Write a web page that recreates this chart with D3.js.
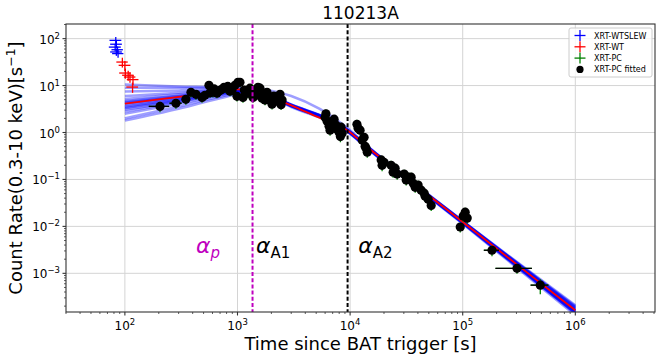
<!DOCTYPE html>
<html>
<head>
<meta charset="utf-8">
<script src="https://cdn.jsdelivr.net/npm/d3@7"></script>
<style>
  body { margin: 0; background: #fff; }
  text { font-family: "DejaVu Sans", sans-serif; }
</style>
</head>
<body>
<script>
// ---- data ----
const wtslewT = [83, 84, 82, 86, 84, 87];
const wtslewRate = [92, 76, 66, 58, 52, 48];
const wtslewTErr = [10, 10, 10, 10, 10, 10];
const wtslewRateErr = [16, 14, 12, 10, 9, 9];

const wtT = [95, 100, 101, 107, 111, 118, 117];
const wtRate = [31.7, 27, 18.5, 16.6, 15.2, 13.4, 9.3];
const wtTErr = [11, 12, 12, 12.5, 13, 14, 14];
const wtRateErr = [7.5, 6.5, 4.5, 4.0, 3.7, 3.3, 2.3];

const pcT = [205, 284, 348, 386, 428, 484, 514, 558, 570, 606, 620, 657, 699, 720, 759, 790, 820, 858, 893, 950, 990, 1010,
  1052, 1119, 1150, 1240, 1291, 1346, 1374, 1459, 1521, 1585, 1652, 1700, 1755, 1828, 1945, 2027, 2100, 2198, 2300, 2387, 2437, 2489,
  5995, 6100, 6250, 6505, 6637, 6918, 7211, 7516, 7656, 7980, 8200, 8318, 8492,
  11500, 11780, 12270, 12790, 13310, 13590, 13870, 14200,
  18880, 19240, 20050, 23120, 24100, 25120, 26180, 30200, 31480, 32810, 34850, 36310, 37840, 40180,
  42760, 45500, 46420, 49320, 52480,
  95060, 101000, 105200, 109600,
  182000, 303400, 488600];
const pcRate = [3.6, 4.2, 5.1, 7.2, 6.5, 5.6, 6.2, 10.1, 7.0, 7.2, 8.5, 6.9, 7.9, 8.2, 9.2, 8.8, 9.6, 7.6, 7.9, 10.1, 5.9, 11.7,
  11.7, 5.6, 8.0, 6.9, 8.8, 7.9, 5.6, 6.2, 9.2, 8.8, 5.4, 6.5, 4.9, 7.2, 4.9, 4.0, 6.0, 5.4, 4.6, 6.5, 3.9, 4.9,
  2.12, 2.5, 1.74, 1.36, 1.12, 1.58, 1.92, 1.43, 1.18, 1.01, 0.82, 1.3, 0.97,
  1.5, 1.23, 1.12, 0.69, 0.79, 0.51, 0.46, 0.38,
  0.26, 0.20, 0.23, 0.20, 0.143, 0.174, 0.13, 0.13, 0.097, 0.112, 0.112, 0.083, 0.068, 0.076,
  0.059, 0.051, 0.044, 0.038, 0.028,
  0.0097, 0.0166, 0.0201, 0.015,
  0.0031, 0.00128, 0.00056];
const pcTErr = [42, 35, 25, 18, 18, 20, 20, 20, 20, 22, 22, 22, 25, 25, 25, 25, 26, 28, 28, 30, 30, 30,
  30, 35, 35, 35, 38, 40, 40, 42, 45, 45, 48, 48, 50, 52, 55, 58, 60, 62, 65, 68, 70, 72,
  180, 180, 190, 190, 200, 200, 210, 220, 220, 230, 240, 240, 250,
  330, 340, 350, 370, 380, 390, 400, 410,
  540, 550, 580, 660, 690, 720, 750, 860, 900, 940, 1000, 1040, 1080, 1150,
  1220, 1300, 1330, 1410, 1500,
  2700, 2900, 3000, 3100,
  28000, 108000, 88000];
const pcRateErr = [0.9, 1.0, 1.2, 1.6, 1.5, 1.3, 1.4, 2.2, 1.5, 1.6, 1.8, 1.5, 1.7, 1.8, 2.0, 1.9, 2.0, 1.7, 1.7, 2.2, 1.3, 2.5,
  2.5, 1.3, 1.7, 1.5, 1.9, 1.7, 1.3, 1.4, 2.0, 1.9, 1.2, 1.4, 1.1, 1.6, 1.1, 0.9, 1.3, 1.2, 1.0, 1.4, 0.9, 1.1,
  0.5, 0.6, 0.4, 0.32, 0.27, 0.37, 0.45, 0.34, 0.28, 0.24, 0.2, 0.31, 0.23,
  0.36, 0.29, 0.27, 0.16, 0.19, 0.12, 0.11, 0.09,
  0.06, 0.05, 0.055, 0.05, 0.034, 0.041, 0.031, 0.031, 0.023, 0.027, 0.027, 0.02, 0.016, 0.018,
  0.014, 0.012, 0.011, 0.009, 0.0067,
  0.0023, 0.004, 0.0048, 0.0036,
  0.0008, 0.0003, 0.0002];

// best fit (red) and posterior samples (blue)
const fitT = [100, 200, 400, 700, 1000, 1380, 2000, 3000, 5000, 9300, 15000, 30000, 100000, 300000, 1000000];
const fitRate = [4.14, 5.1, 6.28, 7.5, 8.3, 7.9, 5.6, 3.8, 2.2, 1.15, 0.44, 0.12, 0.0124, 0.00157, 0.000163];

const sampleT = [100, 300, 800, 1380, 3000, 9300, 15000, 100000, 1000000];
const sampleRates = [
  [1.8, 3.2, 5.8, 7.4, 3.5, 1.06, 0.41, 0.0113, 0.000128],
  [2.0, 3.6, 6.2, 7.6, 3.6, 1.09, 0.42, 0.0117, 0.000138],
  [2.5, 4.1, 6.6, 7.7, 3.65, 1.10, 0.425, 0.0119, 0.000143],
  [2.8, 4.4, 6.8, 7.8, 3.7, 1.12, 0.43, 0.0120, 0.000148],
  [3.1, 4.6, 7.0, 7.8, 3.9, 1.18, 0.45, 0.0128, 0.000175],
  [3.3, 4.8, 7.1, 7.8, 3.75, 1.14, 0.435, 0.0122, 0.000155],
  [3.5, 5.0, 7.2, 7.9, 3.8, 1.16, 0.44, 0.0125, 0.000160],
  [3.6, 5.1, 7.3, 7.9, 3.85, 1.17, 0.45, 0.0127, 0.000170],
  [3.9, 5.4, 7.45, 7.9, 3.8, 1.15, 0.44, 0.0124, 0.000162],
  [4.1, 5.6, 7.5, 7.9, 3.7, 1.11, 0.425, 0.0119, 0.000145],
  [4.3, 5.8, 7.6, 7.9, 3.8, 1.15, 0.44, 0.0125, 0.000165],
  [4.5, 5.9, 7.7, 8.0, 3.75, 1.13, 0.435, 0.0121, 0.000152],
  [4.7, 6.1, 7.8, 8.0, 3.9, 1.18, 0.455, 0.0129, 0.000180],
  [5.2, 6.5, 7.9, 8.0, 3.95, 1.19, 0.46, 0.0131, 0.000188],
  [6.0, 7.0, 8.1, 8.0, 3.65, 1.10, 0.42, 0.0118, 0.000142],
  [7.5, 7.9, 8.4, 8.1, 3.85, 1.16, 0.445, 0.0126, 0.000192],
  [10.5, 9.6, 9.0, 8.2, 3.8, 1.15, 0.44, 0.0125, 0.000200],
  [9.0, 9.0, 9.0, 8.6, 6.0, 1.30, 0.46, 0.0130, 0.000210]
];

const breakTimes = [1360, 9500];
const breakColors = ["#bf00bf", "#000"];

const legendLabels = ["XRT-WTSLEW", "XRT-WT", "XRT-PC", "XRT-PC fitted"];
const legendColors = ["#0000ff", "#ff0000", "#008000", "#000"];

// ---- layout ----
const dims = { width: 664, height: 358 };
const plot = { left: 66, right: 655, top: 24, bottom: 312 };

const svg = d3.select("body").append("svg")
  .attr("width", dims.width)
  .attr("height", dims.height);

const x = d3.scaleLog().domain([30, 5.1e6]).range([plot.left, plot.right]);
const y = d3.scaleLog().domain([1.5e-4, 205]).range([plot.bottom, plot.top]);

const isPow10 = (v) => Math.abs(Math.log10(v) - Math.round(Math.log10(v))) < 1e-9;
const xMajor = x.ticks().filter(isPow10);
const xMinor = x.ticks().filter((v) => !isPow10(v));
const yMajor = y.ticks().filter(isPow10);
const yMinor = y.ticks().filter((v) => !isPow10(v));

svg.append("defs").append("clipPath").attr("id", "clip")
  .append("rect")
  .attr("x", plot.left).attr("y", plot.top)
  .attr("width", plot.right - plot.left).attr("height", plot.bottom - plot.top);

// grid
const grid = svg.append("g").attr("stroke", "#d4d4d4").attr("stroke-width", 1);
grid.selectAll(".gx").data(xMajor).enter().append("line")
  .attr("x1", (d) => x(d)).attr("x2", (d) => x(d))
  .attr("y1", plot.top).attr("y2", plot.bottom);
grid.selectAll(".gy").data(yMajor).enter().append("line")
  .attr("x1", plot.left).attr("x2", plot.right)
  .attr("y1", (d) => y(d)).attr("y2", (d) => y(d));

const area = svg.append("g").attr("clip-path", "url(#clip)");

// error bar helper
function errorbars(g, t, r, te, re, color, withY) {
  const idx = d3.range(t.length);
  g.selectAll(null).data(idx).enter().append("line")
    .attr("x1", (i) => x(Math.max(t[i] - te[i], 1)))
    .attr("x2", (i) => x(t[i] + te[i]))
    .attr("y1", (i) => y(r[i])).attr("y2", (i) => y(r[i]))
    .attr("stroke", color).attr("stroke-width", 1.3);
  if (withY) {
    g.selectAll(null).data(idx).enter().append("line")
      .attr("x1", (i) => x(t[i])).attr("x2", (i) => x(t[i]))
      .attr("y1", (i) => y(Math.max(r[i] - re[i], 1e-6)))
      .attr("y2", (i) => y(r[i] + re[i]))
      .attr("stroke", color).attr("stroke-width", 1.3);
  }
}

// model samples and best fit
const line = d3.line().x((d) => x(d[0])).y((d) => y(d[1])).curve(d3.curveMonotoneX);

area.append("g").selectAll("path")
  .data(sampleRates).enter().append("path")
  .attr("d", (s) => line(sampleT.map((t, i) => [t, s[i]])))
  .attr("fill", "none")
  .attr("stroke", "#0000ff")
  .attr("stroke-opacity", 0.38)
  .attr("stroke-width", 2.5);

area.append("path")
  .attr("d", line(fitT.map((t, i) => [t, fitRate[i]])))
  .attr("fill", "none")
  .attr("stroke", "#ff0000")
  .attr("stroke-width", 1.8);

// data
errorbars(area.append("g"), wtslewT, wtslewRate, wtslewTErr, wtslewRateErr, "#0000ff", true);
errorbars(area.append("g"), wtT, wtRate, wtTErr, wtRateErr, "#ff0000", true);
errorbars(area.append("g"), pcT, pcRate, pcTErr, pcRateErr, "#008000", true);
errorbars(area.append("g"), pcT, pcRate, pcTErr, pcRateErr, "#000", false);

area.append("g").selectAll("circle")
  .data(d3.range(pcT.length)).enter().append("circle")
  .attr("cx", (i) => x(pcT[i]))
  .attr("cy", (i) => y(pcRate[i]))
  .attr("r", 4.6)
  .attr("fill", "#000");

// break times
svg.append("g").selectAll("line")
  .data(breakTimes).enter().append("line")
  .attr("x1", (d) => x(d)).attr("x2", (d) => x(d))
  .attr("y1", plot.top).attr("y2", plot.bottom)
  .attr("stroke", (d, i) => breakColors[i])
  .attr("stroke-width", 2)
  .attr("stroke-dasharray", "4,2.2");

// slope annotations
const notes = [
  { t: 428, sub: "p", italic: true, color: "#bf00bf" },
  { t: 1460, sub: "A1", italic: false, color: "#000" },
  { t: 11800, sub: "A2", italic: false, color: "#000" }
];
notes.forEach((n) => {
  const tx = svg.append("text")
    .attr("x", x(n.t)).attr("y", y(0.0027))
    .attr("fill", n.color)
    .style("font-size", "22px");
  tx.append("tspan").style("font-style", "italic").text("α");
  tx.append("tspan").attr("dy", 5).style("font-size", "15px")
    .style("font-style", n.italic ? "italic" : "normal").text(n.sub);
});

// frame
svg.append("rect")
  .attr("x", plot.left).attr("y", plot.top)
  .attr("width", plot.right - plot.left).attr("height", plot.bottom - plot.top)
  .attr("fill", "none").attr("stroke", "#333").attr("stroke-width", 1.1);

// ticks
const ticks = svg.append("g").attr("stroke", "#333");
ticks.selectAll(".xM").data(xMajor).enter().append("line")
  .attr("x1", (d) => x(d)).attr("x2", (d) => x(d))
  .attr("y1", plot.bottom).attr("y2", plot.bottom + 3.5).attr("stroke-width", 1.1);
ticks.selectAll(".xm").data(xMinor).enter().append("line")
  .attr("x1", (d) => x(d)).attr("x2", (d) => x(d))
  .attr("y1", plot.bottom).attr("y2", plot.bottom + 2).attr("stroke-width", 0.8);
ticks.selectAll(".yM").data(yMajor).enter().append("line")
  .attr("x1", plot.left - 3.5).attr("x2", plot.left)
  .attr("y1", (d) => y(d)).attr("y2", (d) => y(d)).attr("stroke-width", 1.1);
ticks.selectAll(".ym").data(yMinor).enter().append("line")
  .attr("x1", plot.left - 2).attr("x2", plot.left)
  .attr("y1", (d) => y(d)).attr("y2", (d) => y(d)).attr("stroke-width", 0.8);

const expText = (v) => {
  const e = Math.round(Math.log10(v));
  return e < 0 ? "\u2212" + Math.abs(e) : String(e);
};

svg.append("g").selectAll("text").data(xMajor).enter().append("text")
  .attr("x", (d) => x(d)).attr("y", plot.bottom + 18)
  .attr("text-anchor", "middle")
  .style("font-size", "12px")
  .each(function (d) {
    const t = d3.select(this);
    t.append("tspan").text("10");
    t.append("tspan").attr("dy", -5).style("font-size", "8.5px").text(expText(d));
  });

svg.append("g").selectAll("text").data(yMajor).enter().append("text")
  .attr("x", plot.left - 6).attr("y", (d) => y(d) + 5)
  .attr("text-anchor", "end")
  .style("font-size", "12px")
  .each(function (d) {
    const t = d3.select(this);
    t.append("tspan").text("10");
    t.append("tspan").attr("dy", -5).style("font-size", "8.5px").text(expText(d));
  });

// titles
svg.append("text")
  .attr("x", (plot.left + plot.right) / 2).attr("y", 19)
  .attr("text-anchor", "middle")
  .style("font-size", "17px")
  .text("110213A");

svg.append("text")
  .attr("x", (plot.left + plot.right) / 2).attr("y", 350)
  .attr("text-anchor", "middle")
  .style("font-size", "18px")
  .text("Time since BAT trigger [s]");

const yl = svg.append("text")
  .attr("transform", `translate(22, ${(plot.top + plot.bottom) / 2}) rotate(-90)`)
  .attr("text-anchor", "middle")
  .style("font-size", "18px");
yl.append("tspan").text("Count Rate(0.3-10 keV)[s");
yl.append("tspan").attr("dy", -7).style("font-size", "12.5px").text("\u22121");
yl.append("tspan").attr("dy", 7).text("]");

// legend
const legendGroup = svg.append("g").attr("transform", "translate(569, 28)");
legendGroup.append("rect")
  .attr("width", 83).attr("height", 49).attr("rx", 2)
  .attr("fill", "#fff").attr("fill-opacity", 0.8)
  .attr("stroke", "#cccccc").attr("stroke-width", 1);

legendLabels.forEach((label, i) => {
  const row = legendGroup.append("g").attr("transform", `translate(11, ${7.5 + i * 11.3})`);
  if (i < 3) {
    row.append("line").attr("x1", -5.5).attr("x2", 5.5).attr("y1", 0).attr("y2", 0)
      .attr("stroke", legendColors[i]).attr("stroke-width", 1.3);
    row.append("line").attr("x1", 0).attr("x2", 0).attr("y1", -5.5).attr("y2", 5.5)
      .attr("stroke", legendColors[i]).attr("stroke-width", 1.3);
  } else {
    row.append("circle").attr("r", 3.6).attr("fill", legendColors[i]);
  }
  row.append("text").attr("x", 14).attr("y", 3)
    .style("font-size", "8px").attr("fill", "#000").text(label);
});
</script>
</body>
</html>
